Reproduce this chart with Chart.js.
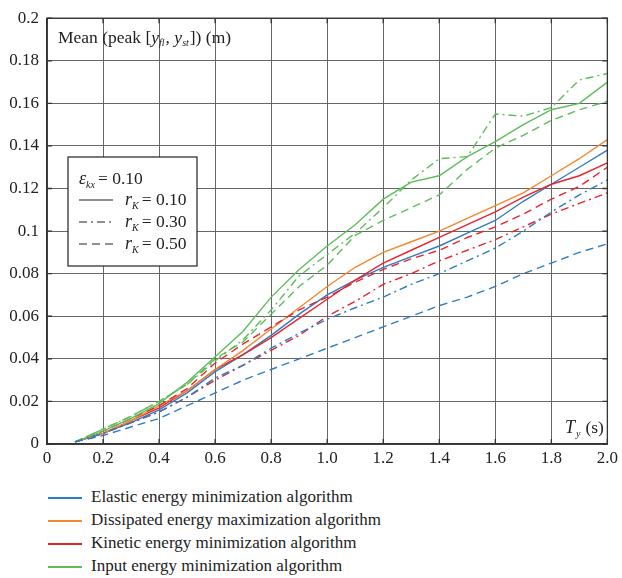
<!DOCTYPE html>
<html>
<head>
<meta charset="utf-8">
<script src="https://cdn.jsdelivr.net/npm/chart.js"></script>
<style>
	body{ margin:0; background:#fff; }
	#wrap{ position:relative; width:622px; height:578px; }
	#myChart{ position:absolute; left:0; top:0; }
	#legend{ position:absolute; left:48px; top:485px; font-family:"Liberation Serif","DejaVu Serif","Times New Roman",Times,serif; font-size:17px; color:#222; }
	#legend div{ height:23px; line-height:23px; white-space:nowrap; }
	#legend span{ display:inline-block; width:34px; height:0; border-top:2px solid; vertical-align:middle; margin-right:9px; }
</style>
</head>
<body>
<div id="wrap">
<canvas id="myChart" width="622" height="470"></canvas>
<div id="legend"></div>
</div>
<script>
const periods = [0.1,0.2,0.3,0.4,0.5,0.6,0.7,0.8,0.9,1.0,1.1,1.2,1.3,1.4,1.5,1.6,1.7,1.8,1.9,2.0]
const algorithms = ['Elastic energy minimization algorithm','Dissipated energy maximization algorithm','Kinetic energy minimization algorithm','Input energy minimization algorithm']
const colors = ['#2d7cc6','#f5862e','#e8252c','#5dbd5b']

// r_K = 0.10 (solid)
const elastic10 = [0.001,0.005,0.010,0.016,0.024,0.034,0.042,0.051,0.061,0.070,0.077,0.083,0.088,0.093,0.099,0.105,0.114,0.122,0.130,0.138]
const dissip10  = [0.001,0.005,0.011,0.018,0.025,0.035,0.044,0.054,0.064,0.074,0.083,0.090,0.095,0.100,0.106,0.112,0.118,0.126,0.134,0.143]
const kinetic10 = [0.001,0.005,0.011,0.017,0.025,0.035,0.042,0.050,0.059,0.068,0.077,0.085,0.091,0.097,0.103,0.109,0.116,0.122,0.126,0.132]
const input10   = [0.001,0.006,0.012,0.019,0.029,0.041,0.053,0.069,0.082,0.093,0.103,0.115,0.123,0.126,0.135,0.142,0.150,0.157,0.160,0.170]
// r_K = 0.30 (dash-dot)
const elastic30 = [0.001,0.005,0.010,0.015,0.022,0.031,0.037,0.045,0.052,0.0586,0.064,0.069,0.075,0.080,0.086,0.092,0.100,0.109,0.117,0.124]
const kinetic30 = [0.001,0.005,0.010,0.015,0.022,0.030,0.037,0.044,0.051,0.060,0.067,0.075,0.080,0.086,0.091,0.096,0.102,0.108,0.113,0.118]
const input30   = [0.001,0.007,0.013,0.020,0.028,0.039,0.049,0.063,0.079,0.089,0.099,0.111,0.124,0.134,0.135,0.155,0.154,0.158,0.171,0.174]
// r_K = 0.50 (dashed)
const elastic50 = [0.001,0.004,0.008,0.012,0.018,0.024,0.030,0.035,0.040,0.045,0.050,0.055,0.060,0.065,0.069,0.074,0.080,0.085,0.090,0.094]
const kinetic50 = [0.001,0.006,0.012,0.018,0.026,0.038,0.047,0.055,0.063,0.069,0.076,0.082,0.087,0.091,0.097,0.102,0.108,0.115,0.121,0.130]
const input50   = [0.001,0.007,0.013,0.020,0.028,0.040,0.048,0.061,0.074,0.084,0.098,0.105,0.111,0.117,0.129,0.139,0.145,0.152,0.157,0.161]

const xTicks = [0,0.2,0.4,0.6,0.8,1.0,1.2,1.4,1.6,1.8,2.0]
const yTicks = [0,0.02,0.04,0.06,0.08,0.1,0.12,0.14,0.16,0.18,0.2]

const DASHDOT = [8,4,2,4]
const DASHED = [8,5]

function line(data, color, dash){
	return {
		data: data.map((v, i) => ({x: periods[i], y: v})),
		borderColor: color,
		backgroundColor: color,
		borderWidth: 1.4,
		borderDash: dash,
		pointRadius: 0,
		tension: 0,
	}
}

const datasets = [
	line(elastic50, colors[0], DASHED),
	line(elastic30, colors[0], DASHDOT),
	line(input50, colors[3], DASHED),
	line(input30, colors[3], DASHDOT),
	line(input10, colors[3], []),
	line(kinetic30, colors[2], DASHDOT),
	line(kinetic50, colors[2], DASHED),
	line(dissip10, colors[1], []),
	line(kinetic10, colors[2], []),
	line(elastic10, colors[0], []),
]

const serif = '"Liberation Serif", "DejaVu Serif", "Times New Roman", Times, serif'

// draw text pieces: [text, italic, size, dy, gap]
function runs(ctx, x, y, parts){
	for(const p of parts){
		ctx.font = (p[1] ? 'italic ' : '') + p[2] + 'px ' + serif
		ctx.fillText(p[0], x, y + (p[3] || 0))
		x += ctx.measureText(p[0]).width + (p[4] || 0)
	}
}

const frame = {
	id: 'frame',
	afterDraw(chart){
		const ctx = chart.ctx
		const a = chart.chartArea
		const xs = chart.scales.x, ys = chart.scales.y
		ctx.save()
		ctx.strokeStyle = '#333'
		ctx.lineWidth = 1.3
		ctx.setLineDash([])
		ctx.strokeRect(a.left, a.top, a.right - a.left, a.bottom - a.top)
		ctx.beginPath()
		for(const t of xTicks){
			const px = xs.getPixelForValue(t)
			ctx.moveTo(px, a.bottom); ctx.lineTo(px, a.bottom - 5)
			ctx.moveTo(px, a.top); ctx.lineTo(px, a.top + 5)
		}
		for(const t of yTicks){
			const py = ys.getPixelForValue(t)
			ctx.moveTo(a.left, py); ctx.lineTo(a.left + 5, py)
			ctx.moveTo(a.right, py); ctx.lineTo(a.right - 5, py)
		}
		ctx.stroke()

		ctx.fillStyle = '#222'
		ctx.textBaseline = 'alphabetic'
		ctx.textAlign = 'left'
		// axis titles inside the plot
		runs(ctx, 58, 43, [['Mean (peak [', false, 17.5], ['y', true, 17.5], ['fl', true, 10, 3, 1], [', ', false, 17.5], ['y', true, 17.5], ['st', true, 10, 3, 1], [']) (m)', false, 17.5]])
		runs(ctx, 565, 433, [['T', true, 18, 0, 1], ['y', true, 10, 4, 5], ['(s)', false, 17.5]])

		// line style key
		ctx.fillStyle = '#fff'
		ctx.fillRect(68, 157, 129, 109)
		ctx.lineWidth = 1.2
		ctx.strokeStyle = '#222'
		ctx.strokeRect(68, 157, 129, 109)
		ctx.fillStyle = '#222'
		runs(ctx, 79, 184, [['ε', true, 18], ['kx', true, 10, 4, 3], ['= 0.10', false, 17.5]])
		const keys = [[[], '0.10', 205], [DASHDOT, '0.30', 227], [DASHED, '0.50', 249]]
		for(const k of keys){
			ctx.beginPath()
			ctx.setLineDash(k[0])
			ctx.lineWidth = 1.2
			ctx.moveTo(79, k[2] - 5); ctx.lineTo(113, k[2] - 5)
			ctx.stroke()
			ctx.setLineDash([])
			runs(ctx, 125, k[2], [['r', true, 18], ['K', true, 10, 4, 3], ['= ' + k[1], false, 17.5]])
		}
		ctx.restore()
	}
}

const config = {
	type: 'line',
	data: { datasets: datasets },
	options: {
		responsive: false,
		animation: false,
		layout: { padding: { top: 14, right: 10, left: 0, bottom: 0 } },
		plugins: { legend: { display: false }, tooltip: { enabled: false } },
		scales: {
			x: {
				type: 'linear', min: 0, max: 2,
				afterBuildTicks: s => { s.ticks = xTicks.map(v => ({value: v})) },
				afterFit: s => { s.height = 26 },
				ticks: { color: '#222', font: { family: serif, size: 17 }, padding: 4, maxRotation: 0,
					callback: v => v === 0 ? '0' : v.toFixed(1) },
				grid: { color: '#666', borderDash: [1.5, 10], lineWidth: 1, drawTicks: false },
				border: { color: '#333', width: 1.3 },
			},
			y: {
				type: 'linear', min: 0, max: 0.2,
				afterBuildTicks: s => { s.ticks = yTicks.map(v => ({value: v})) },
				afterFit: s => { s.width = 47 },
				ticks: { color: '#222', font: { family: serif, size: 17 }, padding: 8,
					callback: v => String(Math.round(v * 100) / 100) },
				grid: { color: '#666', borderDash: [1.5, 10], lineWidth: 1, drawTicks: false },
				border: { color: '#333', width: 1.3 },
			}
		}
	},
	plugins: [frame]
}

new Chart(document.getElementById('myChart'), config)

document.getElementById('legend').innerHTML = algorithms
	.map((name, i) => '<div><span style="border-color:' + colors[i] + '"></span>' + name + '</div>')
	.join('')
</script>
</body>
</html>
